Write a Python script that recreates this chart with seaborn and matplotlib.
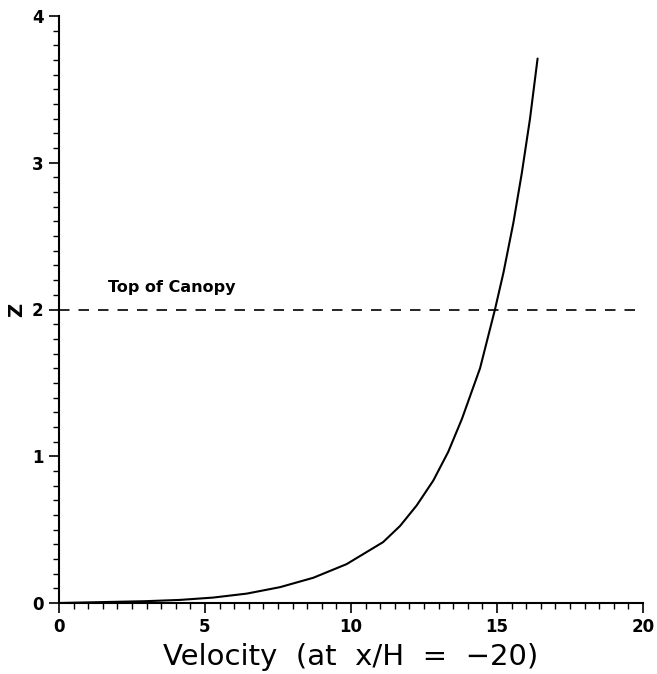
import matplotlib
matplotlib.use("Agg")
import matplotlib.pyplot as plt
import seaborn as sns
import pandas as pd
from matplotlib.ticker import MultipleLocator

# Data
velocity = [0.0, 1.2, 2.9, 4.14, 5.28, 6.43, 7.57, 8.71, 9.85, 11.1, 11.68,
            12.25, 12.82, 13.33, 13.8, 14.42, 14.93, 15.22, 15.56, 15.85,
            16.13, 16.39]
height_z = [0.0, 0.005, 0.012, 0.021, 0.037, 0.064, 0.108, 0.172, 0.265, 0.415,
            0.525, 0.665, 0.835, 1.03, 1.255, 1.6, 2.0, 2.25, 2.59, 2.93,
            3.3, 3.71]
canopy_x = [0.0, 20.0]
canopy_z = [2.0, 2.0]
canopy_label = "Top of Canopy"
xlabel_text = "Velocity  (at  x/H  =  \u221220)"
ylabel_text = "Z"

sns.set_theme(style="ticks")
plt.rcParams['font.family'] = ['DejaVu Sans']

fig = plt.figure(figsize=(6.57, 6.74), dpi=100)
ax = fig.add_axes([59/657, 1-603/674, (643-59)/657, (603-16)/674])

df = pd.DataFrame({"velocity": velocity, "z": height_z})
sns.lineplot(data=df, x="velocity", y="z", ax=ax, color="black", linewidth=1.5,
             sort=False, estimator=None)
sns.lineplot(x=canopy_x, y=canopy_z, ax=ax, color="black", linewidth=1.2,
             linestyle=(0, (6.3, 5.4)))
ax.text(1.68, 2.12, canopy_label, fontsize=11.5, fontweight="bold", color="black")

ax.set_xlim(0, 20)
ax.set_ylim(0, 4)
ax.xaxis.set_major_locator(MultipleLocator(5))
ax.xaxis.set_minor_locator(MultipleLocator(0.5))
ax.yaxis.set_major_locator(MultipleLocator(1))
ax.yaxis.set_minor_locator(MultipleLocator(0.1))
ax.tick_params(which="major", direction="out", length=7, width=1.2, labelsize=12,
               pad=4, color="black", labelcolor="black")
ax.tick_params(which="minor", direction="out", length=4, width=1.0, color="black")
for lab in ax.get_xticklabels() + ax.get_yticklabels():
    lab.set_fontweight("bold")

sns.despine(ax=ax)
for sp in ["left", "bottom"]:
    ax.spines[sp].set_linewidth(1.5)
    ax.spines[sp].set_color("black")

ax.set_xlabel(xlabel_text, fontsize=21, labelpad=5, color="black")
ax.set_ylabel(ylabel_text, fontsize=14, fontweight="bold", labelpad=4, color="black")

fig.savefig("out.png", dpi=100, facecolor="white")
